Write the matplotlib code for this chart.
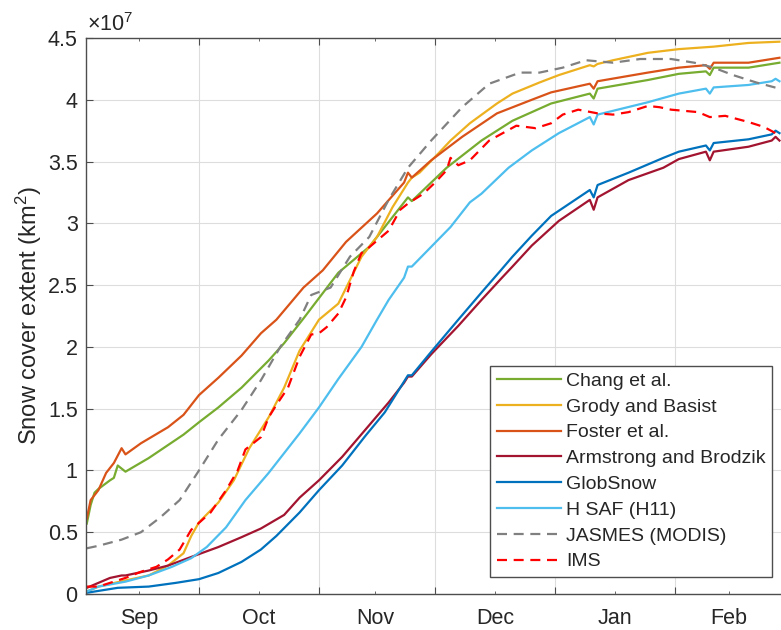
"""
Snow cover extent over the season for several products (Sep - Feb).
Values are read in units of 1e7 km^2, x is days since 1 Sep.
"""

import matplotlib
matplotlib.use("Agg")
import matplotlib.pyplot as plt
from matplotlib.ticker import FixedLocator, NullFormatter, FixedFormatter

# ── Data (days since 1 Sep, extent in 1e7 km^2) ───────────────────────────────
chang_days = [1, 2, 3, 4, 7, 8, 9, 11, 17, 26, 30, 35, 41, 48, 52, 57, 66, 74, 84, 85,
              94, 103, 111, 121, 131, 132, 133, 146, 154, 161, 162, 163, 172, 180]
chang_vals = [0.57, 0.72, 0.82, 0.85, 0.92, 0.94, 1.04, 0.99, 1.10, 1.29, 1.39, 1.51, 1.67,
              1.89, 2.03, 2.23, 2.60, 2.81, 3.21, 3.18, 3.45, 3.67, 3.83, 3.97, 4.05, 4.01,
              4.09, 4.16, 4.21, 4.23, 4.20, 4.26, 4.26, 4.30]

grody_days = [1, 4, 11, 17, 22, 26, 27, 28, 30, 35, 39, 43, 48, 52, 56, 61, 66, 69, 72, 76,
              80, 84, 85, 87, 92, 95, 100, 107, 111, 118, 123, 131, 132, 133, 137, 146, 154,
              163, 172, 180]
grody_vals = [0.02, 0.06, 0.11, 0.15, 0.23, 0.33, 0.40, 0.47, 0.58, 0.74, 0.92, 1.18, 1.43,
              1.67, 1.97, 2.22, 2.35, 2.54, 2.73, 2.89, 3.13, 3.33, 3.37, 3.41, 3.57, 3.67,
              3.81, 3.97, 4.05, 4.14, 4.20, 4.28, 4.27, 4.29, 4.32, 4.38, 4.41, 4.43, 4.46,
              4.47]

foster_days = [1, 2, 4, 6, 8, 10, 11, 15, 22, 26, 30, 35, 41, 46, 50, 57, 62, 68, 76, 83, 84,
               85, 90, 98, 107, 116, 121, 131, 132, 133, 146, 154, 161, 162, 163, 172, 180]
foster_vals = [0.61, 0.76, 0.84, 0.98, 1.06, 1.18, 1.13, 1.22, 1.35, 1.45, 1.61, 1.75, 1.93,
               2.11, 2.22, 2.48, 2.62, 2.85, 3.08, 3.33, 3.41, 3.37, 3.51, 3.70, 3.89, 4.00,
               4.06, 4.13, 4.09, 4.15, 4.22, 4.26, 4.28, 4.25, 4.30, 4.30, 4.34]

armstrong_days = [1, 4, 7, 10, 11, 17, 22, 28, 35, 41, 46, 52, 56, 61, 67, 73, 79, 83, 84, 85,
                  90, 97, 103, 108, 111, 116, 123, 131, 132, 133, 141, 150, 154, 161, 162,
                  163, 172, 178, 179, 180]
armstrong_vals = [0.05, 0.09, 0.13, 0.15, 0.15, 0.19, 0.23, 0.30, 0.38, 0.46, 0.53, 0.64, 0.78,
                  0.92, 1.11, 1.33, 1.55, 1.71, 1.76, 1.76, 1.94, 2.17, 2.38, 2.55, 2.65, 2.82,
                  3.02, 3.19, 3.11, 3.21, 3.35, 3.45, 3.52, 3.58, 3.51, 3.58, 3.62, 3.67, 3.70,
                  3.67]

globsnow_days = [1, 9, 17, 24, 30, 35, 41, 46, 50, 56, 61, 67, 73, 78, 83, 84, 85, 90, 97, 103,
                 108, 111, 116, 121, 131, 132, 133, 141, 150, 154, 161, 162, 163, 172, 178,
                 179, 180]
globsnow_vals = [0.01, 0.05, 0.06, 0.09, 0.12, 0.17, 0.26, 0.36, 0.47, 0.66, 0.84, 1.04, 1.28,
                 1.47, 1.72, 1.77, 1.77, 1.96, 2.22, 2.44, 2.62, 2.73, 2.90, 3.06, 3.27, 3.21,
                 3.31, 3.41, 3.53, 3.58, 3.63, 3.59, 3.65, 3.68, 3.72, 3.75, 3.73]

hsaf_days = [1, 4, 11, 17, 23, 28, 32, 37, 42, 48, 52, 56, 61, 66, 72, 76, 79, 83, 84, 85, 90,
             95, 100, 103, 110, 116, 123, 131, 132, 133, 146, 154, 161, 162, 163, 172, 178,
             179, 180]
hsaf_vals = [0.02, 0.06, 0.10, 0.15, 0.22, 0.29, 0.38, 0.54, 0.76, 0.98, 1.14, 1.30, 1.51, 1.74,
             2.00, 2.22, 2.38, 2.56, 2.65, 2.65, 2.81, 2.97, 3.17, 3.24, 3.45, 3.59, 3.73, 3.86,
             3.80, 3.88, 3.98, 4.05, 4.09, 4.05, 4.10, 4.12, 4.15, 4.17, 4.15]

jasmes_days = [1, 4, 10, 15, 20, 25, 30, 35, 41, 46, 51, 56, 59, 64, 69, 74, 79, 84, 90, 98,
               105, 113, 118, 124, 130, 137, 144, 152, 158, 163, 168, 174, 180]
jasmes_vals = [0.37, 0.39, 0.44, 0.50, 0.62, 0.76, 1.00, 1.25, 1.49, 1.73, 2.00, 2.22, 2.42,
               2.48, 2.73, 2.89, 3.19, 3.45, 3.67, 3.94, 4.13, 4.22, 4.22, 4.26, 4.32, 4.30,
               4.33, 4.33, 4.30, 4.26, 4.20, 4.14, 4.09]

ims_days = [1, 4, 7, 11, 15, 19, 22, 25, 28, 33, 37, 40, 42, 46, 48, 50, 53, 56, 59, 61, 63,
            66, 68, 70, 72, 73, 79, 82, 84, 88, 91, 94, 95, 97, 100, 105, 112, 117, 121, 124,
            128, 133, 137, 141, 146, 149, 152, 159, 162, 166, 172, 176, 179, 180]
ims_vals = [0.06, 0.06, 0.09, 0.13, 0.18, 0.22, 0.28, 0.36, 0.52, 0.66, 0.84, 1.00, 1.17, 1.27,
            1.43, 1.53, 1.67, 1.92, 2.10, 2.11, 2.16, 2.27, 2.40, 2.61, 2.76, 2.78, 2.94, 3.11,
            3.16, 3.24, 3.33, 3.43, 3.53, 3.47, 3.51, 3.67, 3.79, 3.77, 3.81, 3.88, 3.92, 3.89,
            3.88, 3.90, 3.95, 3.94, 3.92, 3.90, 3.86, 3.87, 3.82, 3.78, 3.73, 3.70]

month_labels = ["Sep", "Oct", "Nov", "Dec", "Jan", "Feb"]
month_starts = [0, 30, 61, 91, 122, 153]
month_mids = [14.5, 45.5, 75.5, 106.5, 137.5, 167]
y_ticks = [0, 0.5, 1, 1.5, 2, 2.5, 3, 3.5, 4, 4.5]

# ── Style ──────────────────────────────────────────────────────────────────────
plt.rcParams["font.family"] = ["Liberation Sans", "DejaVu Sans"]
plt.rcParams["mathtext.fontset"] = "custom"
plt.rcParams["mathtext.rm"] = "Liberation Sans"
plt.rcParams["mathtext.default"] = "regular"

TXT = "#262626"
AXC = "#4d4d4d"

series = [
    ("Chang et al.",          chang_days,     chang_vals,     "#77AC30", "-"),
    ("Grody and Basist",      grody_days,     grody_vals,     "#EDB120", "-"),
    ("Foster et al.",         foster_days,    foster_vals,    "#D95319", "-"),
    ("Armstrong and Brodzik", armstrong_days, armstrong_vals, "#A2142F", "-"),
    ("GlobSnow",              globsnow_days,  globsnow_vals,  "#0072BD", "-"),
    ("H SAF (H11)",           hsaf_days,      hsaf_vals,      "#4DBEEE", "-"),
    ("JASMES (MODIS)",        jasmes_days,    jasmes_vals,    "#808080", "--"),
    ("IMS",                   ims_days,       ims_vals,       "#FF0000", "--"),
]

# ── Plot ───────────────────────────────────────────────────────────────────────
fig = plt.figure(figsize=(7.81, 6.3), dpi=100)
ax = fig.add_axes([86 / 781, 36 / 630, 695 / 781, 556 / 630])

for label, days, vals, color, ls in series:
    line, = ax.plot(days, vals, color=color, linestyle=ls, linewidth=1.6, label=label)
    if ls == "--":
        line.set_dashes((4.5, 3.0))

ax.set_xlim(0.8, 180.4)
ax.set_ylim(0, 4.5)

# month boundaries carry ticks + grid, month names sit mid-month
ax.xaxis.set_major_locator(FixedLocator(month_starts))
ax.xaxis.set_major_formatter(NullFormatter())
ax.xaxis.set_minor_locator(FixedLocator(month_mids))
ax.xaxis.set_minor_formatter(FixedFormatter(month_labels))
ax.set_yticks(y_ticks)
ax.set_yticklabels([f"{v:g}" for v in y_ticks])

ax.tick_params(which="major", direction="in", length=5, width=0.8, color=AXC,
               labelsize=15.5, labelcolor=TXT, top=True, pad=6)
ax.tick_params(which="minor", direction="in", length=2.5, width=0.6, color=AXC,
               labelsize=15.5, labelcolor=TXT, top=True, pad=10)
ax.tick_params(axis="x", which="minor", pad=10)

ax.grid(True, which="major", color="#dddddd", linewidth=0.8)
ax.set_axisbelow(True)

for side in ("left", "bottom", "top"):
    ax.spines[side].set_color(AXC)
    ax.spines[side].set_linewidth(1.0)
ax.spines["right"].set_visible(False)

ax.set_ylabel("Snow cover extent (km$^2$)", fontsize=17, color=TXT, labelpad=3)
ax.text(0.002, 1.004, r"$\times10^{7}$", transform=ax.transAxes, fontsize=15.5,
        color=TXT, ha="left", va="bottom")

leg = ax.legend(loc="lower right", bbox_to_anchor=(0.987, 0.031), fontsize=14,
                frameon=True, fancybox=False, framealpha=1, edgecolor=AXC,
                handlelength=3.3, handletextpad=0.25, labelspacing=0.42,
                borderpad=0.33, borderaxespad=0)
leg.get_frame().set_linewidth(1.0)
for t in leg.get_texts():
    t.set_color(TXT)

fig.savefig("out.png", dpi=100)
plt.close(fig)
